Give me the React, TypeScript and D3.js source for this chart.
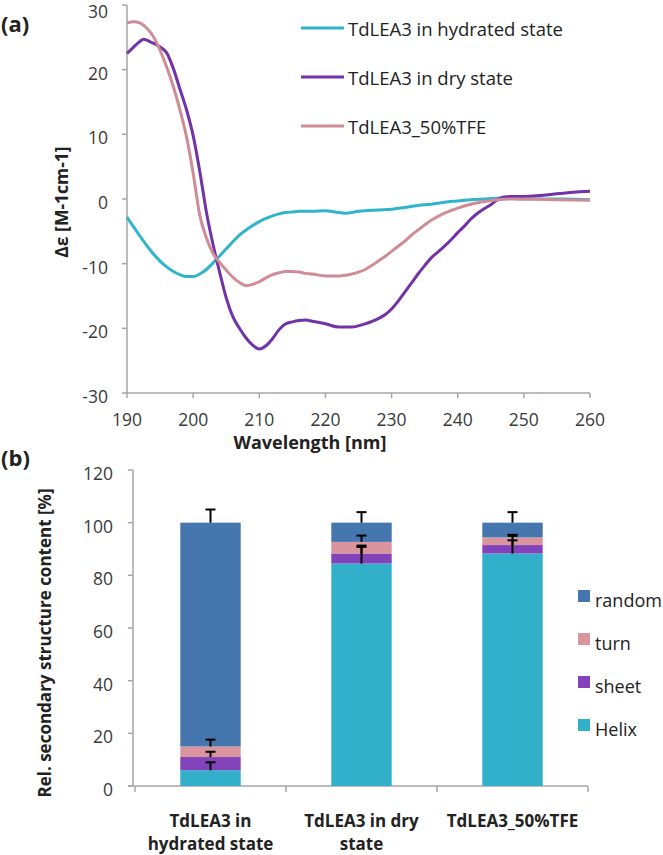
import React from "react";
import * as d3 from "d3";

// ---------- Panel (a): CD spectra ----------
const hydratedWl = [190,191,192,193,194,195,196,197,198,199,200,201,202,203,204,205,206,207,208,209,210,211,212,213,214,215,216,218,220,222,223,225,228,230,232,234,236,238,240,242,244,246,248,250,253,256,260];
const hydratedVal = [-2.8,-4.3,-5.8,-7.2,-8.5,-9.6,-10.5,-11.2,-11.7,-12.0,-12.0,-11.6,-10.9,-9.9,-8.8,-7.7,-6.6,-5.6,-4.8,-4.1,-3.5,-3.0,-2.6,-2.3,-2.1,-2.0,-1.9,-1.9,-1.8,-2.1,-2.2,-1.9,-1.7,-1.6,-1.3,-1.0,-0.8,-0.5,-0.3,-0.1,0,0.1,0.1,0,0,0,-0.1];

const dryWl = [190,191,192,192.5,193.5,195,196,197,198,199,200,201,202,203,204,205,206,207,208,209,210,211,212,213,214,215,216,217,218,220,222,224,226,228,229,230,231,232,233,234,235,236,237,238,239,240,241,242,243,244,245,246,247,248,250,252,254,256,258,260];
const dryVal = [22.5,23.5,24.4,24.7,24.3,23.5,22.6,20.2,17.0,13.8,9.8,4.3,-2.0,-7.0,-11.3,-15.3,-18.2,-20.0,-21.5,-22.6,-23.2,-22.7,-21.6,-20.2,-19.3,-19.0,-18.8,-18.7,-18.9,-19.3,-19.8,-19.8,-19.3,-18.5,-17.9,-17.0,-15.8,-14.4,-13.0,-11.6,-10.3,-9.1,-8.2,-7.3,-6.3,-5.2,-4.2,-3.1,-2.2,-1.5,-0.9,-0.1,0.3,0.4,0.4,0.5,0.7,0.9,1.1,1.2];

const tfeWl = [190,191,192,193,194,195,196,197,198,199,200,201,202,203,204,205,206,207,208,209,210,211,212,213,214,215,216,217,218,220,222,223,224,225,226,227,228,229,230,231,232,233,234,236,238,240,242,244,246,248,250,255,260];
const tfeVal = [27.2,27.4,27.2,26.4,25.1,23.0,20.4,17.4,13.8,9.6,4.0,-2.5,-6.0,-8.4,-9.8,-11.0,-12.1,-12.9,-13.4,-13.2,-12.8,-12.2,-11.7,-11.4,-11.2,-11.2,-11.3,-11.5,-11.6,-11.9,-11.9,-11.8,-11.6,-11.3,-10.9,-10.3,-9.6,-8.9,-8.1,-7.3,-6.5,-5.6,-4.8,-3.3,-2.2,-1.4,-0.8,-0.4,-0.1,0,0,-0.1,-0.2];

const lineNames = ["TdLEA3 in hydrated state", "TdLEA3 in dry state", "TdLEA3_50%TFE"];
const lineColors = ["#30B4CB", "#7232AA", "#CF8C96"];
const xTicksA = [190,200,210,220,230,240,250,260];
const yTicksA = [30,20,10,0,-10,-20,-30];

// ---------- Panel (b): secondary structure ----------
const categories = ["TdLEA3 in hydrated state", "TdLEA3 in dry state", "TdLEA3_50%TFE"];
const categoryLines = [["TdLEA3 in", "hydrated state"], ["TdLEA3 in dry", "state"], ["TdLEA3_50%TFE"]];
const structNames = ["Helix", "sheet", "turn", "random"];
const structColors = ["#32B0C9", "#8243BA", "#D9949E", "#4676AE"];
const helix = [6, 84.5, 88.3];
const sheet = [5, 3.8, 3.2];
const turn = [4, 4.4, 2.9];
const random = [85, 7.3, 5.6];
const helixErr = [3, 6.3, 5];
const sheetErr = [2, 3, 3.5];
const turnErr = [2.6, 2.4, 1];
const randomErr = [5, 4, 4];
const yTicksB = [0,20,40,60,80,100,120];

const FONT = "'Open Sans', 'Noto Sans', sans-serif";
const TXT = "#3a3a3a";
const AX = "#a6a6a6";

export default function App() {
  // Panel a scales
  const xA = d3.scaleLinear().domain([190, 260]).range([127, 590]);
  const yA = d3.scaleLinear().domain([-30, 30]).range([393, 5]);
  const line = d3.line<[number, number]>().x(d => xA(d[0])).y(d => yA(d[1])).curve(d3.curveMonotoneX);
  const series = [
    d3.zip(hydratedWl, hydratedVal) as [number, number][],
    d3.zip(dryWl, dryVal) as [number, number][],
    d3.zip(tfeWl, tfeVal) as [number, number][],
  ];

  // Panel b scales
  const xB = d3.scaleBand<string>().domain(categories).range([135, 588]).paddingInner(0.6).paddingOuter(0.3);
  const yB = d3.scaleLinear().domain([0, 120]).range([786, 470]);
  const stackInput = categories.map((c, i) => ({ cat: c, Helix: helix[i], sheet: sheet[i], turn: turn[i], random: random[i] }));
  const stacked = d3.stack<any>().keys(structNames)(stackInput);
  const errs = [helixErr, sheetErr, turnErr, randomErr];
  const dividers = [0, 1, 2, 3].map(i => 135 + i * ((588 - 135) / 3));

  return (
    <svg width={663} height={855} style={{ position: "absolute", left: 0, top: 0, background: "#fff" }} fontFamily={FONT}>
      {/* ---------- (a) ---------- */}
      <text x={1} y={32} fontSize={22} fontWeight="bold" fill="#222">(a)</text>
      {/* y axis */}
      <line x1={xA(190)} x2={xA(190)} y1={yA(30)} y2={yA(-30)} stroke={AX} strokeWidth={1.5} />
      {yTicksA.map(t => (
        <g key={"ya" + t}>
          <line x1={xA(190) - 5} x2={xA(190)} y1={yA(t)} y2={yA(t)} stroke={AX} strokeWidth={1.5} />
          <text x={108} y={Math.max(yA(t) + 3, 11)} textAnchor="end" dominantBaseline="central" fontSize={17.5} fill={TXT}>{t}</text>
        </g>
      ))}
      {/* x axis */}
      <line x1={xA(190)} x2={xA(260)} y1={yA(-30)} y2={yA(-30)} stroke={AX} strokeWidth={1.5} />
      {xTicksA.map(t => (
        <g key={"xa" + t}>
          <line x1={xA(t)} x2={xA(t)} y1={yA(-30)} y2={yA(-30) + 5} stroke={AX} strokeWidth={1.5} />
          <text x={xA(t)} y={426} textAnchor="middle" fontSize={17.5} fill={TXT}>{t}</text>
        </g>
      ))}
      <text x={310} y={449} textAnchor="middle" fontSize={18} fontWeight="bold" fill="#222">Wavelength [nm]</text>
      <text transform={`translate(68,202) rotate(-90)`} textAnchor="middle" fontSize={17.5} fontWeight="bold" fill="#222">Δε [M-1cm-1]</text>
      {/* curves */}
      {series.map((s, i) => (
        <path key={"l" + i} d={line(s) || ""} fill="none" stroke={lineColors[i]} strokeWidth={3} strokeLinejoin="round" />
      ))}
      {/* legend a */}
      {lineNames.map((n, i) => (
        <g key={"lg" + i}>
          <line x1={301} x2={344} y1={28 + i * 49} y2={28 + i * 49} stroke={lineColors[i]} strokeWidth={3} />
          <text x={348} y={28 + i * 49} dominantBaseline="central" fontSize={18.5} fill="#222">{n}</text>
        </g>
      ))}

      {/* ---------- (b) ---------- */}
      <text x={1} y={466} fontSize={22} fontWeight="bold" fill="#222">(b)</text>
      <line x1={133} x2={133} y1={yB(120)} y2={yB(0)} stroke={AX} strokeWidth={1.5} />
      {yTicksB.map(t => (
        <g key={"yb" + t}>
          <line x1={128} x2={133} y1={yB(t)} y2={yB(t)} stroke={AX} strokeWidth={1.5} />
          <text x={113} y={yB(t) + 3} textAnchor="end" dominantBaseline="central" fontSize={17.5} fill={TXT}>{t}</text>
        </g>
      ))}
      <line x1={128} x2={588} y1={yB(0)} y2={yB(0)} stroke={AX} strokeWidth={1.5} />
      {dividers.map((d, i) => (
        <line key={"dv" + i} x1={d} x2={d} y1={yB(0)} y2={yB(0) + 6} stroke={AX} strokeWidth={1.5} />
      ))}
      <text transform={`translate(51,${yB(60) + 15}) rotate(-90)`} textAnchor="middle" fontSize={17} fontWeight="bold" fill="#222">Rel. secondary structure content [%]</text>
      {stacked.map((layer, li) => (
        <g key={"ly" + li} fill={structColors[li]}>
          {layer.map((d, ci) => (
            <rect key={ci} x={xB(categories[ci])!} width={xB.bandwidth()} y={yB(d[1])} height={yB(d[0]) - yB(d[1])} />
          ))}
        </g>
      ))}
      {stacked.map((layer, li) => (
        <g key={"er" + li} stroke="#000" strokeWidth={2}>
          {layer.map((d, ci) => {
            const cx = xB(categories[ci])! + xB.bandwidth() / 2;
            const top = yB(d[1] + errs[li][ci]);
            return (
              <g key={ci}>
                <line x1={cx} x2={cx} y1={yB(d[1])} y2={top} />
                <line x1={cx - 5} x2={cx + 5} y1={top} y2={top} />
              </g>
            );
          })}
        </g>
      ))}
      {categoryLines.map((ls, ci) => (
        <text key={"cl" + ci} textAnchor="middle" fontSize={17} fontWeight="bold" fill="#222">
          {ls.map((l, k) => (
            <tspan key={k} x={xB(categories[ci])! + xB.bandwidth() / 2} y={827 + k * 23}>{l}</tspan>
          ))}
        </text>
      ))}
      {/* legend b (reverse order: random on top) */}
      {structNames.slice().reverse().map((n, k) => {
        const idx = structNames.length - 1 - k;
        const cy = 600 + k * 43;
        return (
          <g key={"lb" + n}>
            <rect x={578} y={cy - 10} width={12} height={12} fill={structColors[idx]} />
            <text x={595} y={cy} dominantBaseline="central" fontSize={18} fill="#222">{n}</text>
          </g>
        );
      })}
    </svg>
  );
}
